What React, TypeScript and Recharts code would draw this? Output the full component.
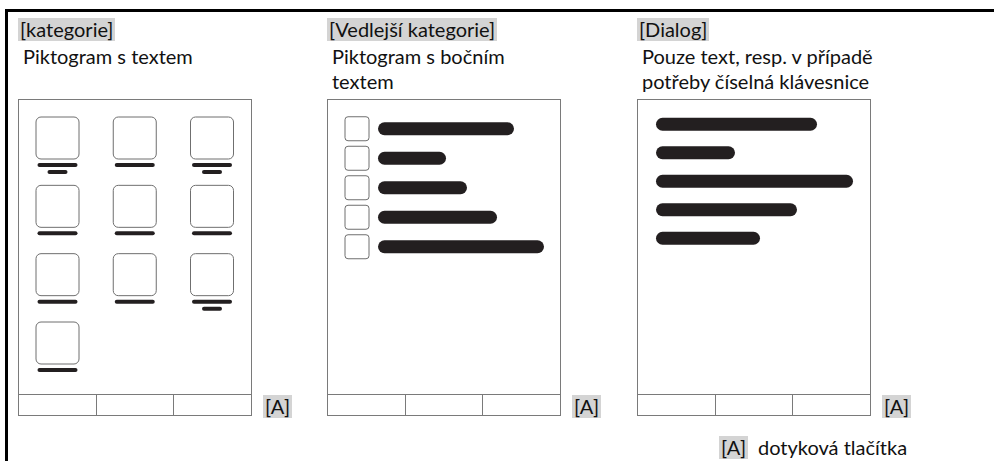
import React from 'react';
import { BarChart, Bar, XAxis, YAxis, ScatterChart, Scatter } from 'recharts';

// panel 1: icon grid (column, row, number of label lines under each icon)
const iconCols = [0, 1, 2, 0, 1, 2, 0, 1, 2, 0];
const iconRows = [0, 0, 0, 1, 1, 1, 2, 2, 2, 3];
const iconLabelLines = [2, 1, 2, 1, 1, 1, 1, 1, 2, 1];

// panel 2: side text lengths next to small pictograms
const sideRows = ['r1', 'r2', 'r3', 'r4', 'r5'];
const sideTextLengths = [136, 68, 89, 119, 166];

// panel 3: dialog text line lengths
const dialogRows = ['d1', 'd2', 'd3', 'd4', 'd5'];
const dialogTextLengths = [161, 79, 197, 141, 104];

const titles = ['[kategorie]', '[Vedlejší kategorie]', '[Dialog]'];
const subtitles = [
  ['Piktogram s textem'],
  ['Piktogram s bočním', 'textem'],
  ['Pouze text, resp. v případě', 'potřeby číselná klávesnice'],
];
const buttonLabel = '[A]';
const legendText = 'dotyková tlačítka';

const panelLeft = [18, 327, 637];
const PANEL_TOP = 99;
const PANEL_W = 234;
const PANEL_H = 317;
const INK = '#231f20';
const FONT = 'Lato, "Open Sans", sans-serif';
const FS = 20;

const iconData = iconCols.map((c, i) => ({ col: c, row: iconRows[i], lines: iconLabelLines[i] }));
const sideData = sideRows.map((n, i) => ({ name: n, len: sideTextLengths[i] }));
const dialogData = dialogRows.map((n, i) => ({ name: n, len: dialogTextLengths[i] }));

const IconShape = (props: any) => {
  const { cx, cy, payload } = props;
  return (
    <g>
      <rect x={cx - 21.5} y={cy - 21} width={43} height={42} rx={5} fill="#fff" stroke="#6f6f6f" strokeWidth={1} />
      <line x1={cx - 18} x2={cx + 18} y1={cy + 27} y2={cy + 27} stroke={INK} strokeWidth={4} strokeLinecap="round" />
      {payload.lines > 1 && (
        <line x1={cx - 8} x2={cx + 8} y1={cy + 34} y2={cy + 34} stroke={INK} strokeWidth={4} strokeLinecap="round" />
      )}
    </g>
  );
};

const pill = (x: number, y: number, w: number, h: number) => (
  <rect x={x} y={y} width={w} height={h} rx={h / 2} fill={INK} />
);

const SideShape = (props: any) => {
  const { x, y, width, height } = props;
  const cy = y + height / 2;
  return (
    <g>
      <rect x={x - 33} y={cy - 12} width={24} height={24} rx={3} fill="#fff" stroke="#6f6f6f" strokeWidth={1} />
      {pill(x, y, width, height)}
    </g>
  );
};

const DialogShape = (props: any) => {
  const { x, y, width, height } = props;
  return pill(x, y, width, height);
};

const Frame = ({ left }: { left: number }) => (
  <div
    style={{
      position: 'absolute',
      left,
      top: PANEL_TOP,
      width: PANEL_W,
      height: PANEL_H,
      border: '1px solid #7a7a7a',
      boxSizing: 'border-box',
    }}
  >
    <div
      style={{
        position: 'absolute',
        left: 0,
        right: 0,
        bottom: 0,
        height: 20,
        borderTop: '1px solid #7a7a7a',
        display: 'flex',
      }}
    >
      {[0, 1, 2].map((i) => (
        <div key={i} style={{ flex: 1, borderLeft: i ? '1px solid #7a7a7a' : 'none' }} />
      ))}
    </div>
  </div>
);

const Tag = ({ left, top, text }: { left: number; top: number; text: string }) => (
  <div
    style={{
      position: 'absolute',
      left,
      top,
      height: 23,
      lineHeight: '23px',
      padding: '0 2px',
      background: '#d4d4d4',
      fontSize: FS,
      color: '#111',
      whiteSpace: 'nowrap',
    }}
  >
    {text}
  </div>
);

export default function App() {
  return (
    <div
      style={{
        position: 'absolute',
        left: 0,
        top: 0,
        width: 994,
        height: 461,
        background: '#fff',
        fontFamily: FONT,
        overflow: 'hidden',
      }}
    >
      <div style={{ position: 'absolute', left: 5, top: 9, width: 989, height: 3, background: '#000' }} />
      <div style={{ position: 'absolute', left: 5, top: 9, width: 3, height: 452, background: '#000' }} />

      {titles.map((t, i) => (
        <Tag key={t} left={panelLeft[i]} top={18} text={t} />
      ))}
      {subtitles.map((lines, i) => (
        <div
          key={i}
          style={{
            position: 'absolute',
            left: panelLeft[i] + 5,
            top: 44,
            fontSize: FS,
            lineHeight: '25px',
            color: '#111',
            whiteSpace: 'nowrap',
          }}
        >
          {lines.map((l) => (
            <div key={l}>{l}</div>
          ))}
        </div>
      ))}

      {panelLeft.map((l) => (
        <Frame key={l} left={l} />
      ))}
      {panelLeft.map((l) => (
        <Tag key={'a' + l} left={l + 245} top={395} text={buttonLabel} />
      ))}

      <div style={{ position: 'absolute', left: 18, top: PANEL_TOP }}>
        <ScatterChart width={PANEL_W} height={PANEL_H} margin={{ top: 39, bottom: 73, left: 39.5, right: 40 }}>
          <XAxis type="number" dataKey="col" domain={[0, 2]} hide />
          <YAxis type="number" dataKey="row" domain={[0, 3]} reversed hide />
          <Scatter data={iconData} shape={<IconShape />} isAnimationActive={false} />
        </ScatterChart>
      </div>

      <div style={{ position: 'absolute', left: 327, top: PANEL_TOP }}>
        <BarChart
          width={PANEL_W}
          height={170}
          data={sideData}
          layout="vertical"
          margin={{ top: 15.25, bottom: 7.25, left: 51, right: 17 }}
        >
          <XAxis type="number" domain={[0, 166]} hide />
          <YAxis type="category" dataKey="name" hide />
          <Bar dataKey="len" barSize={13} shape={<SideShape />} isAnimationActive={false} />
        </BarChart>
      </div>

      <div style={{ position: 'absolute', left: 637, top: PANEL_TOP }}>
        <BarChart
          width={PANEL_W}
          height={170}
          data={dialogData}
          layout="vertical"
          margin={{ top: 10.75, bottom: 16.75, left: 19, right: 18 }}
        >
          <XAxis type="number" domain={[0, 197]} hide />
          <YAxis type="category" dataKey="name" hide />
          <Bar dataKey="len" barSize={13} shape={<DialogShape />} isAnimationActive={false} />
        </BarChart>
      </div>

      <Tag left={719} top={436} text={buttonLabel} />
      <div
        style={{
          position: 'absolute',
          left: 758,
          top: 436,
          lineHeight: '23px',
          fontSize: FS,
          color: '#111',
          whiteSpace: 'nowrap',
        }}
      >
        {legendText}
      </div>
    </div>
  );
}
